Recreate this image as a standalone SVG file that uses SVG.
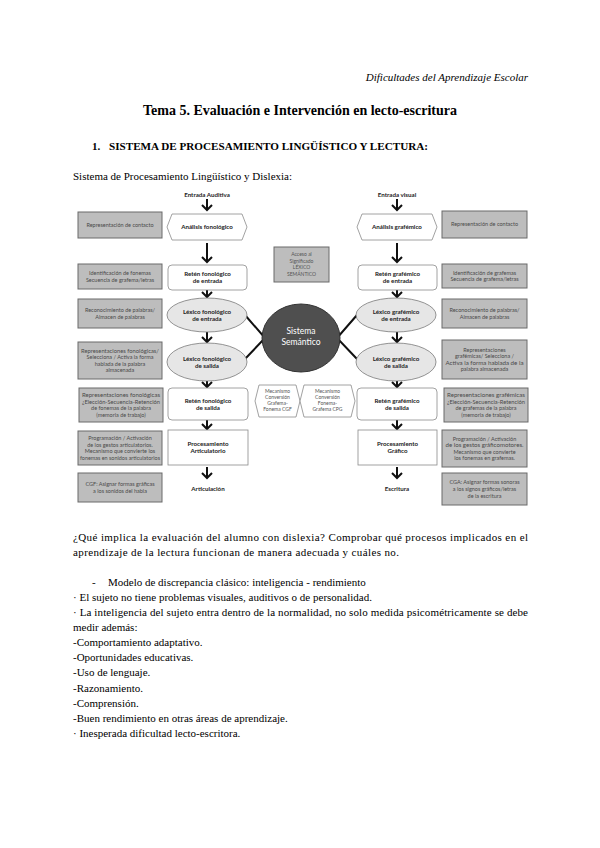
<svg xmlns="http://www.w3.org/2000/svg" width="600" height="848" viewBox="0 0 600 848">
<defs>
<style>
.serif{font-family:"Liberation Serif","Times New Roman",serif;fill:#000}
.gb{fill:#bdbdbd;stroke:#6a6a6a;stroke-width:1}
.gt{font-family:Lato,"Open Sans",sans-serif;font-size:5.5px;fill:#4a4a4a;text-anchor:middle}
.nb{fill:#fff;stroke:#8a8a8a;stroke-width:0.8}
.el{fill:#e6e6e6;stroke:#7a7a7a;stroke-width:0.8}
.lb{font-family:Lato,"Open Sans",sans-serif;font-size:6.2px;font-weight:bold;fill:#222;text-anchor:middle}
.mt{font-family:Lato,"Open Sans",sans-serif;font-size:5px;fill:#555;text-anchor:middle}
.st{font-family:Lato,"Open Sans",sans-serif;font-size:8.5px;fill:#fff;text-anchor:middle}
.arr{fill:none;stroke:#111;stroke-width:2}
.ln{fill:none;stroke:#111;stroke-width:2}
</style>
</defs>
<rect width="600" height="848" fill="#fff"/>

<!-- page text -->
<text class="serif" x="528" y="81" font-size="11" font-style="italic" text-anchor="end">Dificultades del Aprendizaje Escolar</text>
<text class="serif" x="300" y="115" font-size="14" font-weight="bold" text-anchor="middle">Tema 5. Evaluación e Intervención en lecto-escritura</text>
<text class="serif" x="92" y="150" font-size="11" font-weight="bold">1.</text>
<text class="serif" x="109" y="150" font-size="11" font-weight="bold" textLength="319" lengthAdjust="spacingAndGlyphs">SISTEMA DE PROCESAMIENTO LINGÜÍSTICO Y LECTURA:</text>
<text class="serif" x="73" y="180" font-size="11">Sistema de Procesamiento Lingüístico y Dislexia:</text>

<!-- body text -->
<text class="serif" font-size="11" x="73" y="541" textLength="455" lengthAdjust="spacing">¿Qué implica la evaluación del alumno con dislexia? Comprobar qué procesos implicados en el</text>
<text class="serif" font-size="11" x="73" y="556" textLength="326" lengthAdjust="spacing">aprendizaje de la lectura funcionan de manera adecuada y cuáles no.</text>
<text class="serif" font-size="11" x="92" y="586">-</text>
<text class="serif" font-size="11" x="108" y="586">Modelo de discrepancia clásico: inteligencia - rendimiento</text>
<text class="serif" font-size="11" x="73" y="601" textLength="299" lengthAdjust="spacing">· El sujeto no tiene problemas visuales, auditivos o de personalidad.</text>
<text class="serif" font-size="11" x="73" y="616" textLength="455" lengthAdjust="spacing">· La inteligencia del sujeto entra dentro de la normalidad, no solo medida psicométricamente se debe</text>
<text class="serif" font-size="11" x="73" y="631">medir además:</text>
<text class="serif" font-size="11" x="73" y="646">-Comportamiento adaptativo.</text>
<text class="serif" font-size="11" x="73" y="661">-Oportunidades educativas.</text>
<text class="serif" font-size="11" x="73" y="676">-Uso de lenguaje.</text>
<text class="serif" font-size="11" x="73" y="692">-Razonamiento.</text>
<text class="serif" font-size="11" x="73" y="707">-Comprensión.</text>
<text class="serif" font-size="11" x="73" y="722">-Buen rendimiento en otras áreas de aprendizaje.</text>
<text class="serif" font-size="11" x="73" y="737">· Inesperada dificultad lecto-escritora.</text>

<!-- connectors -->
<g id="connectors">
<path class="arr" d="M207,199V210M202,205L207,210L212,205"/>
<path class="arr" d="M207,243V262M202,257L207,262L212,257"/>
<path class="arr" d="M207,290V297M202,292L207,297L212,292"/>
<path class="arr" d="M207,332V342M202,337L207,342L212,337"/>
<path class="arr" d="M207,381V387M202,382L207,387L212,382"/>
<path class="arr" d="M207,420V429M202,424L207,429L212,424"/>
<path class="arr" d="M207,467V478M202,473L207,478L212,473"/>
<path class="arr" d="M397,199V210M392,205L397,210L402,205"/>
<path class="arr" d="M397,243V262M392,257L397,262L402,257"/>
<path class="arr" d="M397,290V297M392,292L397,297L402,292"/>
<path class="arr" d="M397,332V342M392,337L397,342L402,337"/>
<path class="arr" d="M397,381V387M392,382L397,387L402,382"/>
<path class="arr" d="M397,420V429M392,424L397,429L402,424"/>
<path class="arr" d="M397,467V478M392,473L397,478L402,473"/>
<path class="ln" d="M245,315L265,338L245,359"/>
<path class="ln" d="M357,315L337,338L357,359"/>
</g>

<!-- left gray boxes -->
<g id="gl1"><rect class="gb" x="78" y="212" width="84" height="26"/><text class="gt" x="120" y="226.9">Representación de contacto</text></g>
<g id="gl2"><rect class="gb" x="78" y="264" width="84" height="25"/><text class="gt" x="120" y="275.1">Identificación de fonemas</text><text class="gt" x="120" y="281.7">Secuencia de grafema/letras</text></g>
<g id="gl3"><rect class="gb" x="78" y="299" width="84" height="29"/><text class="gt" x="120" y="312.1">Reconocimiento de palabras/</text><text class="gt" x="120" y="318.7">Almacen de palabras</text></g>
<g id="gl4"><rect class="gb" x="78" y="342" width="84" height="37"/><text class="gt" x="120" y="352.5" textLength="78" lengthAdjust="spacingAndGlyphs">Representaciones fonológicas/</text><text class="gt" x="120" y="359.1">Selecciona / Activa la forma</text><text class="gt" x="120" y="365.7">hablada de la palabra</text><text class="gt" x="120" y="372.3">almacenada</text></g>
<g id="gl5"><rect class="gb" x="79" y="388" width="84" height="34"/><text class="gt" x="121" y="397" textLength="78" lengthAdjust="spacingAndGlyphs">Representaciones fonológicas</text><text class="gt" x="121" y="403.6" textLength="78" lengthAdjust="spacingAndGlyphs">¿Elección-Secuencia-Retención</text><text class="gt" x="121" y="410.2">de fonemas de la palabra</text><text class="gt" x="121" y="416.8">(memoria de trabajo)</text></g>
<g id="gl6"><rect class="gb" x="78" y="431" width="84" height="34"/><text class="gt" x="120" y="440">Programación / Activación</text><text class="gt" x="120" y="446.6">de los gestos articulatorios.</text><text class="gt" x="120" y="453.2">Mecanismo que convierte los</text><text class="gt" x="120" y="459.8" textLength="80" lengthAdjust="spacingAndGlyphs">fonemas en sonidos articulatorios</text></g>
<g id="gl7"><rect class="gb" x="78" y="473" width="84" height="29"/><text class="gt" x="120" y="486.1">CGF: Asignar formas gráficas</text><text class="gt" x="120" y="492.7">a los sonidos del habla</text></g>

<!-- right gray boxes -->
<g id="gr1"><rect class="gb" x="442" y="211" width="85" height="27"/><text class="gt" x="484.5" y="226.4">Representación de contacto</text></g>
<g id="gr2"><rect class="gb" x="442" y="264" width="85" height="24"/><text class="gt" x="484.5" y="274.6">Identificación de grafemas</text><text class="gt" x="484.5" y="281.2">Secuencia de grafema/letras</text></g>
<g id="gr3"><rect class="gb" x="442" y="299" width="85" height="29"/><text class="gt" x="484.5" y="312.1">Reconocimiento de palabras/</text><text class="gt" x="484.5" y="318.7">Almacen de palabras</text></g>
<g id="gr4"><rect class="gb" x="442" y="340" width="85" height="39"/><text class="gt" x="484.5" y="351.5">Representaciones</text><text class="gt" x="484.5" y="358.1">grafémicas/ Selecciona /</text><text class="gt" x="484.5" y="364.7" textLength="78" lengthAdjust="spacingAndGlyphs">Activa la forma hablada de la</text><text class="gt" x="484.5" y="371.3">palabra almacenada</text></g>
<g id="gr5"><rect class="gb" x="444" y="388" width="84" height="34"/><text class="gt" x="486" y="397" textLength="78" lengthAdjust="spacingAndGlyphs">Representaciones grafémicas</text><text class="gt" x="486" y="403.6" textLength="78" lengthAdjust="spacingAndGlyphs">¿Elección-Secuencia-Retención</text><text class="gt" x="486" y="410.2">de grafemas de la palabra</text><text class="gt" x="486" y="416.8">(memoria de trabajo)</text></g>
<g id="gr6"><rect class="gb" x="442" y="430" width="85" height="37"/><text class="gt" x="484.5" y="440.5">Programación / Activación</text><text class="gt" x="484.5" y="447.1" textLength="78" lengthAdjust="spacingAndGlyphs">de los gestos gráficomotores.</text><text class="gt" x="484.5" y="453.7">Mecanismo que convierte</text><text class="gt" x="484.5" y="460.3">los fonemas en grafemas.</text></g>
<g id="gr7"><rect class="gb" x="442" y="473" width="85" height="32"/><text class="gt" x="484.5" y="484.3">CGA: Asignar formas sonoras</text><text class="gt" x="484.5" y="490.9">a los signos gráficos/letras</text><text class="gt" x="484.5" y="497.5">de la escritura</text></g>

<!-- left column nodes -->
<g id="entrada-auditiva"><text class="lb" x="207" y="197">Entrada Auditiva</text></g>
<g id="analisis-fonologico"><path class="nb" d="M172,214H242L247,227L242,240H172L167,227Z"/><text class="lb" x="207" y="229.2">Análisis fonológico</text></g>
<g id="reten-fon-entrada"><rect class="nb" x="168" y="265" width="79" height="25" rx="4"/><text class="lb" x="207.5" y="276">Retén fonológico</text><text class="lb" x="207.5" y="283.4">de entrada</text></g>
<g id="lexico-fon-entrada"><ellipse class="el" cx="207" cy="315" rx="40" ry="17"/><text class="lb" x="207" y="313.5">Léxico fonológico</text><text class="lb" x="207" y="320.9">de entrada</text></g>
<g id="lexico-fon-salida"><ellipse class="el" cx="207" cy="362" rx="40" ry="19"/><text class="lb" x="207" y="360.5">Léxico fonológico</text><text class="lb" x="207" y="367.9">de salida</text></g>
<g id="reten-fon-salida"><rect class="nb" x="168" y="388" width="80" height="32" rx="4"/><text class="lb" x="208" y="402.5">Retén fonológico</text><text class="lb" x="208" y="409.9">de salida</text></g>
<g id="proc-articulatorio"><rect class="nb" x="168" y="430" width="80" height="35"/><text class="lb" x="208" y="446">Procesamiento</text><text class="lb" x="208" y="453.4">Articulatorio</text></g>
<g id="articulacion"><text class="lb" x="208" y="491">Articulación</text></g>

<!-- right column nodes -->
<g id="entrada-visual"><text class="lb" x="397" y="197">Entrada visual</text></g>
<g id="analisis-grafemico"><path class="nb" d="M362,214H432L437,227L432,240H362L357,227Z"/><text class="lb" x="397" y="229.2">Análisis grafémico</text></g>
<g id="reten-graf-entrada"><rect class="nb" x="358" y="265" width="79" height="25" rx="4"/><text class="lb" x="397.5" y="276">Retén grafémico</text><text class="lb" x="397.5" y="283.4">de entrada</text></g>
<g id="lexico-graf-entrada"><ellipse class="el" cx="396" cy="315" rx="40" ry="17"/><text class="lb" x="396" y="313.5">Léxico grafémico</text><text class="lb" x="396" y="320.9">de entrada</text></g>
<g id="lexico-graf-salida"><ellipse class="el" cx="396" cy="362" rx="40" ry="19"/><text class="lb" x="396" y="360.5">Léxico grafémico</text><text class="lb" x="396" y="367.9">de salida</text></g>
<g id="reten-graf-salida"><rect class="nb" x="357" y="388" width="80" height="32" rx="4"/><text class="lb" x="397" y="402.5">Retén grafémico</text><text class="lb" x="397" y="409.9">de salida</text></g>
<g id="proc-grafico"><rect class="nb" x="358" y="430" width="79" height="35"/><text class="lb" x="397.5" y="446">Procesamiento</text><text class="lb" x="397.5" y="453.4">Gráfico</text></g>
<g id="escritura"><text class="lb" x="397" y="491">Escritura</text></g>

<!-- center -->
<g id="acceso-significado"><rect class="gb" x="274" y="247" width="55" height="35"/><text class="mt" x="301.5" y="256">Acceso al</text><text class="mt" x="301.5" y="262.5">Significado</text><text class="mt" x="301.5" y="269">LÉXICO</text><text class="mt" x="301.5" y="275.5">SEMÁNTICO</text></g>
<g id="sistema-semantico"><ellipse cx="301" cy="338" rx="39" ry="34" fill="#4f4f4f" stroke="#333" stroke-width="1"/><text class="st" x="301" y="334">Sistema</text><text class="st" x="301" y="345">Semántico</text></g>
<g id="mecanismo-cgf"><path class="nb" d="M259,385H296L300,401L296,417H259L255,401Z"/><text class="mt" x="277.5" y="393">Mecanismo</text><text class="mt" x="277.5" y="399">Conversión</text><text class="mt" x="277.5" y="405">Grafema-</text><text class="mt" x="277.5" y="411">Fonema CGF</text></g>
<g id="mecanismo-cpg"><path class="nb" d="M304,385H351L355,401L351,417H304L300,401Z"/><text class="mt" x="327.5" y="393">Mecanismo</text><text class="mt" x="327.5" y="399">Conversión</text><text class="mt" x="327.5" y="405">Fonema-</text><text class="mt" x="327.5" y="411">Grafema CPG</text></g>
</svg>
